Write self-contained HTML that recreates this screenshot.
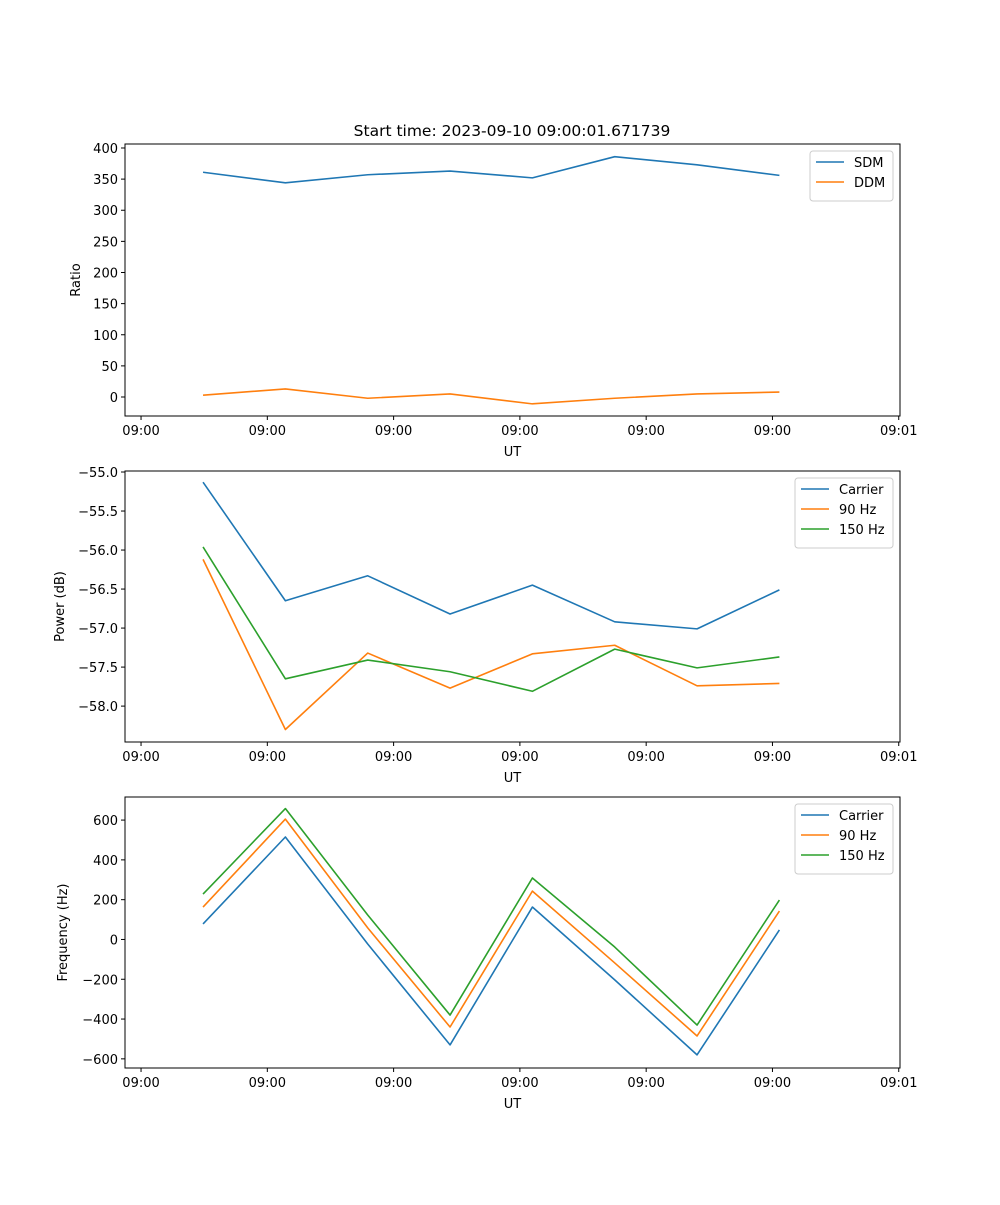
<!DOCTYPE html>
<html><head><meta charset="utf-8"><style>
body{margin:0;background:#fff;font-family:"Liberation Sans","DejaVu Sans",sans-serif;}
svg text{font-family:"DejaVu Sans","Liberation Sans",sans-serif;font-size:13px;fill:#000;}
</style></head><body>
<svg id="fig" width="1000" height="1200" xmlns="http://www.w3.org/2000/svg">
<rect width="1000" height="1200" fill="#fff"/>
<text x="512" y="136" text-anchor="middle" style="font-size:15.5px">Start time: 2023-09-10 09:00:01.671739</text>
</svg>
<script>
// times in seconds after 09:00:00
const times = [4.91, 11.43, 17.95, 24.47, 30.99, 37.51, 44.03, 50.55];
const xTicks = [0, 10, 20, 30, 40, 50, 60];
const xTickLabels = ["09:00","09:00","09:00","09:00","09:00","09:00","09:01"];

const sdm = [361, 344, 357, 363, 352, 386, 373, 356];
const ddm = [3, 13, -2, 5, -11, -2, 5, 8];
const ratioTicks = [0, 50, 100, 150, 200, 250, 300, 350, 400];

const powCarrier = [-55.13, -56.65, -56.33, -56.82, -56.45, -56.92, -57.01, -56.51];
const pow90 = [-56.12, -58.30, -57.32, -57.77, -57.33, -57.22, -57.74, -57.71];
const pow150 = [-55.96, -57.65, -57.41, -57.56, -57.81, -57.27, -57.51, -57.37];
const powerTicks = [-58.0, -57.5, -57.0, -56.5, -56.0, -55.5, -55.0];

const freqCarrier = [78, 515, -23, -530, 163, -203, -580, 48];
const freq90 = [163, 605, 58, -440, 243, -118, -485, 143];
const freq150 = [228, 658, 123, -380, 309, -38, -430, 198];
const freqTicks = [-600, -400, -200, 0, 200, 400, 600];

const NS = "http://www.w3.org/2000/svg";
const svg = document.getElementById("fig");
function mk(tag, attrs, parent) {
  const e = document.createElementNS(NS, tag);
  for (const k in attrs) e.setAttribute(k, attrs[k]);
  (parent || svg).appendChild(e);
  return e;
}
const X0 = 125, X1 = 900, XMIN = -1.27, XMAX = 60.1;
function xs(t) { return X0 + (t - XMIN) / (XMAX - XMIN) * (X1 - X0); }

function panel(name, top, bottom, ymin, ymax, yTicks, yFmt, ylabel, ylabelX, series, legend) {
  const g = mk("g", {});
  
  
  const ys = v => bottom - (v - ymin) / (ymax - ymin) * (bottom - top);
  series.forEach(s => {
    const pts = s.vals.map((v, i) => xs(times[i]).toFixed(2) + "," + ys(v).toFixed(2)).join(" ");
    const pl = mk("polyline", {points: pts, fill: "none", stroke: s.color, "stroke-width": 1.6, "stroke-linejoin": "round"}, g);
    
    
  });
  const frame = mk("rect", {x: X0, y: top, width: X1 - X0, height: bottom - top, fill: "none", stroke: "#000", "stroke-width": 1}, g);
  
  
  xTicks.forEach((t, i) => {
    const x = xs(t);
    mk("line", {x1: x, x2: x, y1: bottom, y2: bottom + 4, stroke: "#000"}, g);
    const tx = mk("text", {x: x, y: bottom + 19, "text-anchor": "middle"}, g);
    tx.textContent = xTickLabels[i];
    
    
  });
  yTicks.forEach(v => {
    const y = ys(v);
    mk("line", {x1: X0 - 4, x2: X0, y1: y, y2: y, stroke: "#000"}, g);
    const tx = mk("text", {x: X0 - 7, y: y + 5, "text-anchor": "end"}, g);
    tx.textContent = yFmt(v);
    
    
  });
  const xl = mk("text", {x: (X0 + X1) / 2, y: bottom + 40, "text-anchor": "middle"}, g);
  xl.textContent = "UT";
  
  
  const cy = (top + bottom) / 2;
  const yl = mk("text", {x: ylabelX, y: cy, "text-anchor": "middle", transform: "rotate(-90 " + ylabelX + " " + cy + ")"}, g);
  yl.textContent = ylabel;
  
  
  const lg = mk("g", {}, g);
  
  
  const lx = legend.x, ly = top + 7, w = 893 - lx, h = 8 + series.length * 20 + 2;
  mk("rect", {x: lx, y: ly, width: w, height: h, rx: 3, fill: "#fff", stroke: "#ccc"}, lg);
  series.forEach((s, i) => {
    const yy = ly + 15 + i * 20;
    const ln = mk("line", {x1: lx + 6, x2: lx + 34, y1: yy - 4, y2: yy - 4, stroke: s.color, "stroke-width": 1.6}, lg);
    
    
    const t = mk("text", {x: lx + 44, y: yy + 1}, lg);
    t.textContent = s.label;
    
    
  });
}
const BLUE = "#1f77b4", ORANGE = "#ff7f0e", GREEN = "#2ca02c";
panel("ratio-panel", 144, 416, -30.5, 406.4, ratioTicks, v => String(v), "Ratio", 80,
  [{id: "sdm", label: "SDM", vals: sdm, color: BLUE}, {id: "ddm", label: "DDM", vals: ddm, color: ORANGE}], {x: 810});
panel("power-panel", 471, 742, -58.46, -54.987, powerTicks, v => (v < 0 ? "\u2212" : "") + Math.abs(v).toFixed(1), "Power (dB)", 64,
  [{id: "carrier", label: "Carrier", vals: powCarrier, color: BLUE}, {id: "90hz", label: "90 Hz", vals: pow90, color: ORANGE}, {id: "150hz", label: "150 Hz", vals: pow150, color: GREEN}], {x: 795});
panel("frequency-panel", 797, 1068, -646, 716, freqTicks, v => (v < 0 ? "\u2212" : "") + Math.abs(v), "Frequency (Hz)", 67,
  [{id: "carrier-freq", label: "Carrier", vals: freqCarrier, color: BLUE}, {id: "90hz-freq", label: "90 Hz", vals: freq90, color: ORANGE}, {id: "150hz-freq", label: "150 Hz", vals: freq150, color: GREEN}], {x: 795});
</script>
</body></html>
